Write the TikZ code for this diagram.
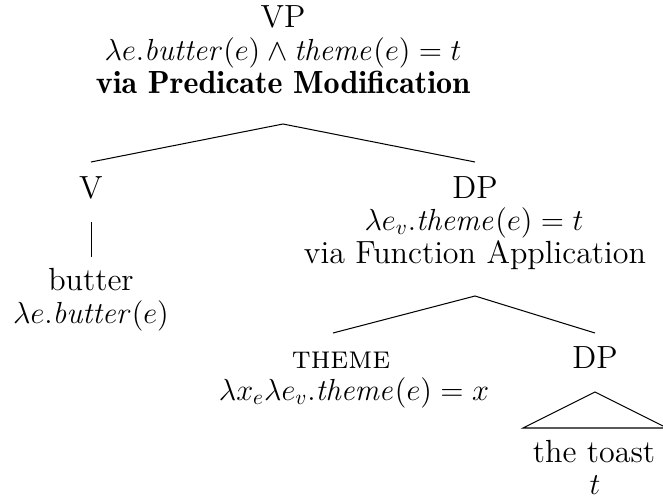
\documentclass[tikz,border=0pt]{standalone}
\usepackage{graphicx}
\usetikzlibrary{calc}
% semantic formulas: maths set at text size, then scaled down a little
\newcommand{\sem}[1]{\mathit{#1}}
\newcommand{\fm}[1]{\scalebox{0.925}{$#1$}}
\begin{document}
\begin{tikzpicture}[x=0.437pt,y=-0.437pt,
  lbl/.style={anchor=base,inner sep=0pt,font=\fontsize{14}{17}\selectfont},
  branch/.style={line width=0.45pt}]
\useasboundingbox (0,0) rectangle (663,503);
% root
\node[lbl] (vp)     at (283,27) {VP};
\node[lbl] (vpsem)  at (283,60) {\fm{\lambda e.\sem{butter}(e)\wedge \sem{theme}(e)=t}};
\node[lbl] (vprule) at (283,93) {\fontseries{b}\selectfont via Predicate Modification};
% verb
\node[lbl] (v)         at (91,198) {V};
\node[lbl] (butter)    at (91,290) {butter};
\node[lbl] (buttersem) at (91,323) {\fm{\lambda e.\sem{butter}(e)}};
% object DP
\node[lbl] (dp)     at (475,198) {DP};
\node[lbl] (dpsem)  at (474,230) {\fm{\lambda e_v.\sem{theme}(e)=t}};
\node[lbl] (dprule) at (475,263) {via Function Application};
% theme head
\node[lbl] (theme)    at (341,368) {\textsc{theme}};
\node[lbl] (themesem) at (354,400) {\fm{\lambda x_e\lambda e_v.\sem{theme}(e)=x}};
% inner DP
\node[lbl] (dpb)   at (595,368) {DP};
\node[lbl] (toast) at (594,462) {the toast};
\node[lbl] (tsem)  at (595,494) {\fm{t}};
% branches
\draw[branch] ([shift={(0,-36)}]v.base) -- ([shift={(0,31)}]vprule.base) -- ([shift={(0,-36)}]dp.base);
\draw[branch] ([shift={(0.5,24)}]v.base) -- ([shift={(0.5,-33)}]butter.base);
\draw[branch] ([shift={(-8,-35)}]theme.base) -- ([shift={(0,33)}]dprule.base) -- ([shift={(0,-35)}]dpb.base);
\draw[branch] ([shift={(-71,-34)}]toast.base) -- ([shift={(0,24)}]dpb.base) -- ([shift={(73,-34)}]toast.base) -- cycle;
\end{tikzpicture}
\end{document}
